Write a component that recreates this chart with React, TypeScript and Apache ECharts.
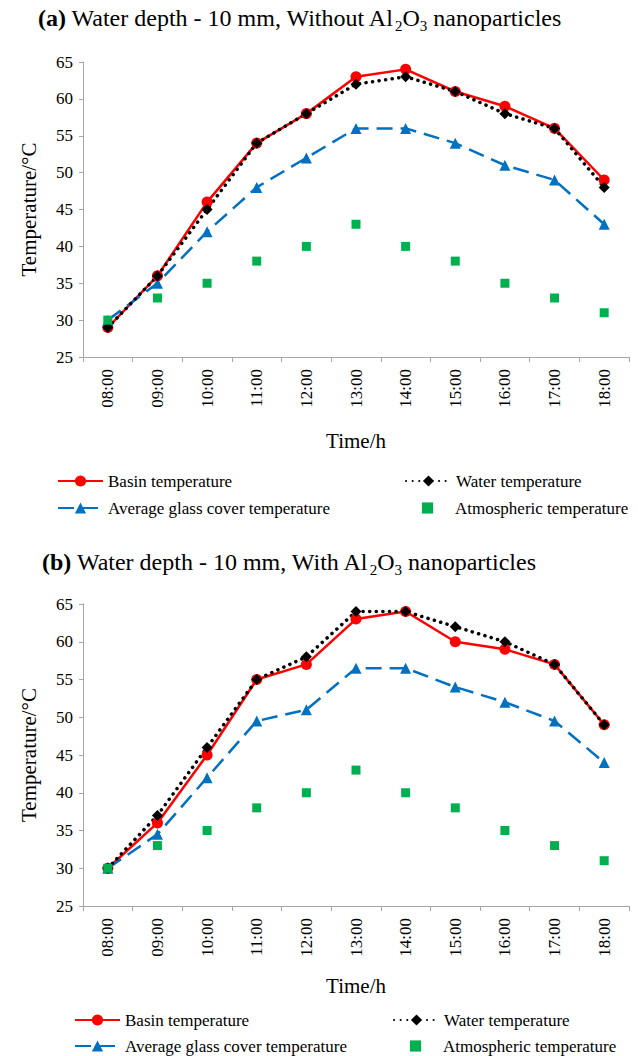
import React, { useEffect, useRef } from 'react';
import * as echarts from 'echarts';

const times = ['08:00', '09:00', '10:00', '11:00', '12:00', '13:00', '14:00', '15:00', '16:00', '17:00', '18:00'];

const basinA = [29, 36, 46, 54, 58, 63, 64, 61, 59, 56, 49];
const waterA = [29, 36, 45, 54, 58, 62, 63, 61, 58, 56, 48];
const glassA = [30, 35, 42, 48, 52, 56, 56, 54, 51, 49, 43];
const atmosA = [30, 33, 35, 38, 40, 43, 40, 38, 35, 33, 31];

const basinB = [30, 36, 45, 55, 57, 63, 64, 60, 59, 57, 49];
const waterB = [30, 37, 46, 55, 58, 64, 64, 62, 60, 57, 49];
const glassB = [30, 34.5, 42, 49.5, 51, 56.5, 56.5, 54, 52, 49.5, 44];
const atmosB = [30, 33, 35, 38, 40, 43, 40, 38, 35, 33, 31];

const yMin = 25;
const yMax = 65;
const yStep = 5;

const names = ['Basin temperature', 'Water temperature', 'Average glass cover temperature', 'Atmospheric temperature'];

const FONT = "'Liberation Serif', serif";
const AXIS_GRAY = '#A6A6A6';

function makeSeries(idx: number, basin: number[], water: number[], glass: number[], atmos: number[]) {
  return [
    {
      name: names[0], type: 'line', xAxisIndex: idx, yAxisIndex: idx, data: basin,
      symbol: 'circle', symbolSize: 11,
      itemStyle: { color: '#FF0000' },
      lineStyle: { color: '#FF0000', width: 2.5 },
    },
    {
      name: names[2], type: 'line', xAxisIndex: idx, yAxisIndex: idx, data: glass,
      symbol: 'triangle', symbolSize: 11,
      itemStyle: { color: '#0070C0' },
      lineStyle: { color: '#0070C0', width: 2.5, type: [16, 8] },
    },
    {
      name: names[1], type: 'line', xAxisIndex: idx, yAxisIndex: idx, data: water,
      symbol: 'diamond', symbolSize: 11,
      itemStyle: { color: '#000000' },
      lineStyle: { color: '#000000', width: 3.5, type: [0.1, 6.5], cap: 'round' },
    },
    {
      name: names[3], type: 'line', xAxisIndex: idx, yAxisIndex: idx, data: atmos,
      symbol: 'rect', symbolSize: 9,
      itemStyle: { color: '#00B050' },
      lineStyle: { width: 0, opacity: 0 },
    },
  ];
}

function xAxisOf(idx: number, gap: number) {
  return {
    type: 'category', gridIndex: idx, data: times, boundaryGap: true,
    axisLine: { show: true, lineStyle: { color: AXIS_GRAY, width: 1 } },
    axisTick: { show: true, length: 5, lineStyle: { color: AXIS_GRAY } },
    axisLabel: { rotate: 90, fontSize: 17, fontFamily: FONT, color: '#000', margin: 12 },
    splitLine: { show: false },
    name: 'Time/h', nameLocation: 'middle', nameGap: gap,
    nameTextStyle: { fontSize: 21, fontFamily: FONT, color: '#000' },
  };
}

function yAxisOf(idx: number) {
  return {
    type: 'value', gridIndex: idx, min: yMin, max: yMax, interval: yStep,
    axisLine: { show: true, lineStyle: { color: AXIS_GRAY, width: 1 } },
    axisTick: { show: true, length: 4, lineStyle: { color: AXIS_GRAY } },
    axisLabel: { fontSize: 17, fontFamily: FONT, color: '#000', margin: 10 },
    splitLine: { show: false },
    name: 'Temperature/°C', nameLocation: 'middle', nameGap: 44,
    nameTextStyle: { fontSize: 21, fontFamily: FONT, color: '#000' },
  };
}

function legendOf(name: string, left: number, top: number) {
  return {
    data: [name], left, top, orient: 'horizontal', padding: 0,
    itemWidth: 45, itemHeight: 14, itemGap: 5,
    textStyle: { fontSize: 17, fontFamily: FONT, color: '#000', lineHeight: 18 },
    selectedMode: false,
  };
}

function titleText(label: string, rest1: string, rest2: string, x: number, y: number) {
  return {
    type: 'text', left: x, top: y,
    style: {
      text: `{b|${label}}{n| ${rest1}}{s|2}{n|O}{s|3}{n|${rest2}}`,
      rich: {
        b: { fontSize: 24, fontFamily: FONT, fontWeight: 'bold', fill: '#000', lineHeight: 30 },
        n: { fontSize: 24, fontFamily: FONT, fill: '#000', lineHeight: 30 },
        s: { fontSize: 15, fontFamily: FONT, fill: '#000', lineHeight: 30, verticalAlign: 'bottom' },
      },
    },
  };
}

export default function App() {
  const ref = useRef<HTMLDivElement>(null);
  useEffect(() => {
    document.body.style.margin = '0';
    if (!ref.current) return;
    const chart = echarts.init(ref.current, undefined, { renderer: 'svg' });
    chart.setOption({
      animation: false,
      backgroundColor: '#fff',
      textStyle: { fontFamily: FONT },
      grid: [
        { left: 83, top: 62, width: 546, height: 295 },
        { left: 83, top: 604, width: 546, height: 302 },
      ],
      xAxis: [xAxisOf(0, 73), xAxisOf(1, 69)],
      yAxis: [yAxisOf(0), yAxisOf(1)],
      legend: [
        legendOf(names[0], 57, 472),
        legendOf(names[1], 405, 472),
        legendOf(names[2], 57, 499),
        legendOf(names[3], 405, 499),
        legendOf(names[0], 74, 1011),
        legendOf(names[1], 393, 1011),
        legendOf(names[2], 74, 1037),
        legendOf(names[3], 393, 1037),
      ],
      graphic: [
        titleText('(a)', 'Water depth - 10 mm, Without Al', ' nanoparticles', 38, 6),
        titleText('(b)', 'Water depth - 10 mm, With Al', ' nanoparticles', 42, 550),
      ],
      series: [
        ...makeSeries(0, basinA, waterA, glassA, atmosA),
        ...makeSeries(1, basinB, waterB, glassB, atmosB),
      ],
    });
    return () => chart.dispose();
  }, []);
  return <div ref={ref} style={{ width: 638, height: 1056 }} />;
}
